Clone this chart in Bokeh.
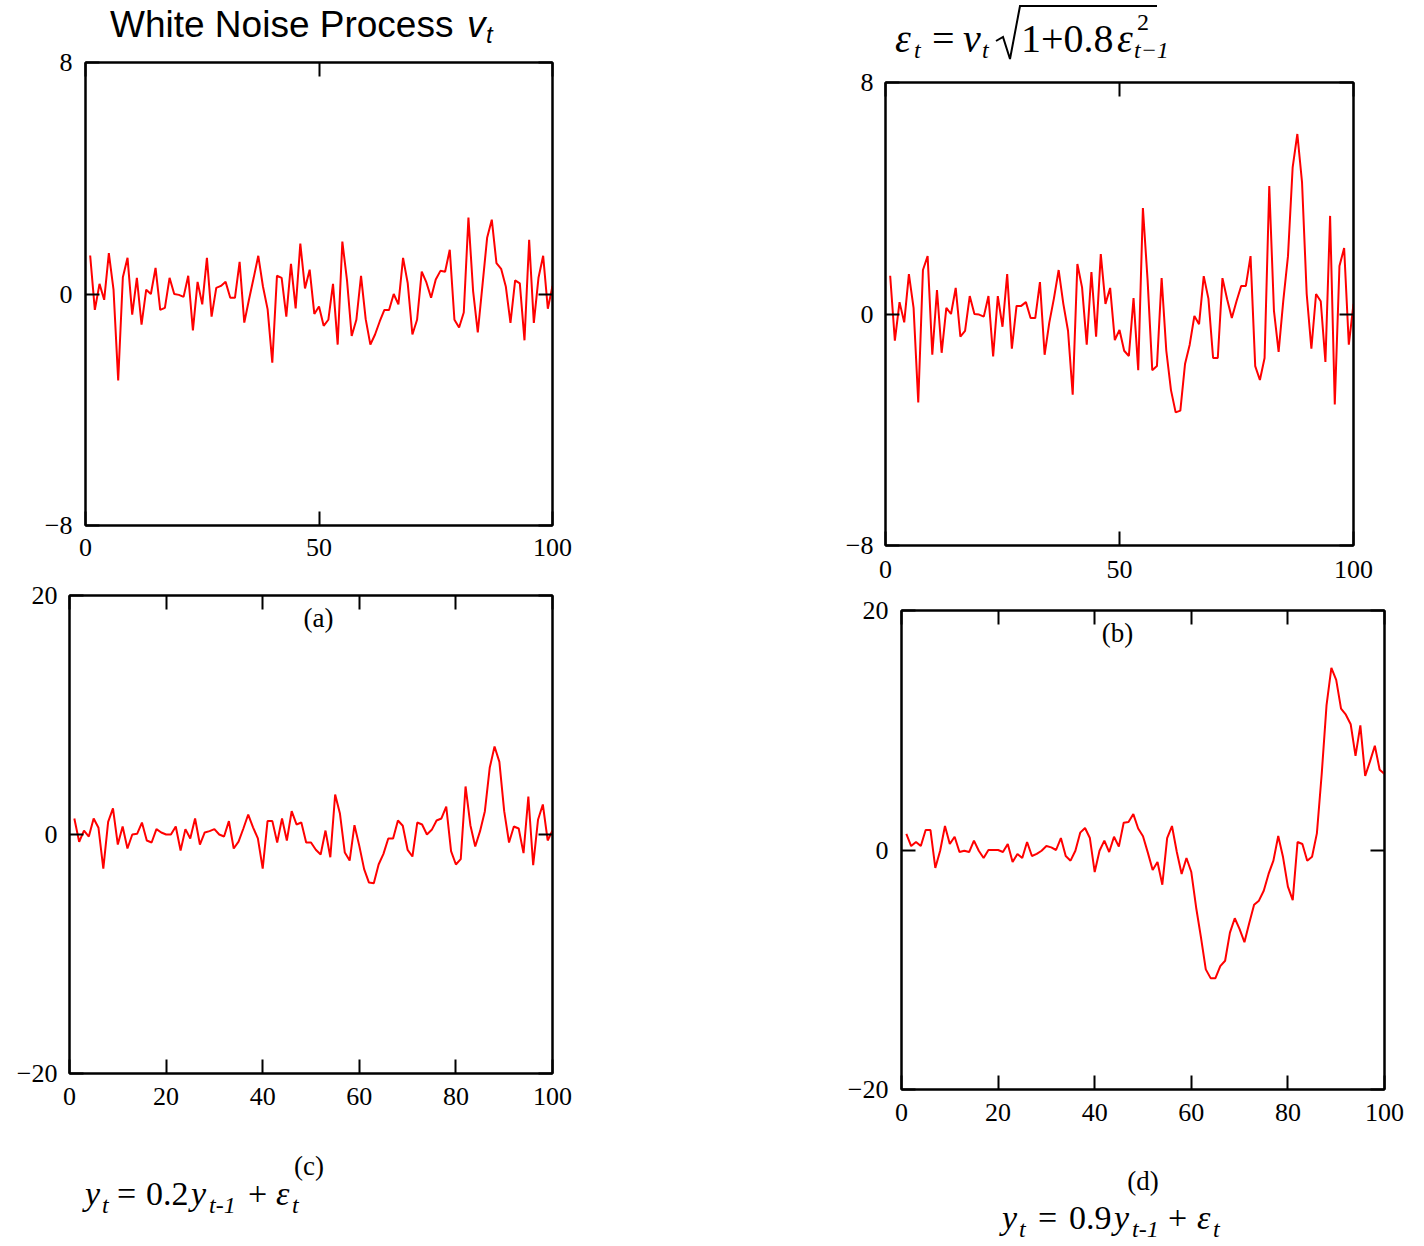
from bokeh.plotting import figure
from bokeh.layouts import row, column
from bokeh.models import Label, FixedTicker, LinearAxis, Range1d, Div
from bokeh.embed import file_html
from bokeh.resources import INLINE

# ---------------- data ----------------
t = list(range(1, 101))

white_noise = [1.33, -0.55, 0.35, -0.2, 1.41, 0.15, -2.99, 0.58, 1.25, -0.71,
               0.56, -1.06, 0.15, 0.0, 0.9, -0.55, -0.48, 0.56, 0.0, -0.03,
               -0.1, 0.63, -1.26, 0.42, -0.36, 1.25, -0.78, 0.21, 0.28, 0.42,
               -0.13, -0.13, 1.11, -0.99, -0.2, 0.55, 1.32, 0.26, -0.53, -2.37,
               0.63, 0.56, -0.78, 1.04, -0.5, 1.74, 0.19, 0.84, -0.69, -0.43,
               -1.1, -0.89, 0.35, -1.75, 1.81, 0.47, -1.45, -0.89, 0.63, -0.87,
               -1.75, -1.4, -0.95, -0.55, -0.55, 0.0, -0.36, 1.25, 0.37, -1.4,
               -0.89, 0.77, 0.4, -0.13, 0.5, 0.8, 0.77, 1.53, -0.89, -1.16,
               -0.64, 2.64, 0.1, -1.33, 0.3, 1.94, 2.57, 1.07, 0.87, 0.26,
               -1.0, 0.47, 0.37, -1.6, 1.87, -1.0, 0.56, 1.32, -0.51, 0.28]

arch_eps = [1.32, -0.92, 0.41, -0.29, 1.38, 0.21, -3.06, 1.52, 2.0, -1.41,
            0.83, -1.34, 0.21, 0.0, 0.9, -0.78, -0.58, 0.62, 0.0, -0.02,
            -0.09, 0.62, -1.47, 0.62, -0.44, 1.38, -1.2, 0.28, 0.28, 0.41,
            -0.14, -0.14, 1.1, -1.41, -0.3, 0.55, 1.52, 0.35, -0.58, -2.79,
            1.73, 0.92, -1.06, 1.45, -0.78, 2.07, 0.35, 0.9, -0.9, -0.55,
            -1.27, -1.45, 0.55, -1.94, 3.66, 1.18, -1.94, -1.8, 1.24, -1.27,
            -2.63, -3.4, -3.34, -1.73, -1.06, -0.07, -0.35, 1.31, 0.53, -1.52,
            -1.52, 1.24, 0.51, -0.14, 0.44, 0.97, 0.97, 2.0, -1.8, -2.28,
            -1.52, 4.42, 0.12, -1.31, 0.46, 2.0, 5.07, 6.22, 4.56, 0.69,
            -1.2, 0.69, 0.44, -1.66, 3.39, -3.13, 1.66, 2.28, -1.06, 0.35]

ar02 = [1.34, -0.61, 0.33, -0.17, 1.34, 0.56, -2.85, 1.06, 2.18, -0.84,
        0.67, -1.17, 0.0, 0.06, 1.0, -0.5, -0.67, 0.45, 0.17, 0.0,
        0.0, 0.67, -1.34, 0.45, -0.33, 1.34, -0.84, 0.17, 0.28, 0.45,
        0.0, -0.17, 1.12, -1.17, -0.6, 0.5, 1.67, 0.6, -0.33, -2.85,
        1.12, 1.12, -0.67, 1.34, -0.5, 1.95, 0.84, 1.0, -0.67, -0.67,
        -1.28, -1.67, 0.33, -1.9, 3.35, 1.73, -1.51, -2.18, 0.78, -0.95,
        -2.9, -4.02, -4.07, -2.51, -1.62, -0.33, -0.33, 1.17, 0.73, -1.28,
        -1.84, 1.0, 0.84, 0.0, 0.39, 1.17, 1.34, 2.34, -1.39, -2.51,
        -2.06, 4.02, 0.78, -1.0, 0.28, 1.95, 5.58, 7.36, 6.08, 1.95,
        -0.67, 0.67, 0.5, -1.56, 3.18, -2.57, 1.23, 2.51, -0.5, 0.33]

ar09 = [1.34, 0.33, 0.67, 0.33, 1.67, 1.67, -1.5, -0.06, 2.0, 0.5,
        1.11, -0.17, -0.06, -0.17, 0.78, -0.06, -0.67, 0.0, 0.0, 0.0,
        -0.17, 0.5, -1.0, -0.33, -0.67, 0.67, -0.5, -0.33, -0.06, 0.33,
        0.22, 0.0, 1.0, -0.5, -0.89, -0.06, 1.45, 1.84, 1.0, -1.84,
        -0.06, 0.78, -0.17, 1.11, 0.28, 2.28, 2.34, 3.0, 1.8, 1.15,
        -0.22, -1.67, -1.0, -2.9, 1.0, 2.0, -0.17, -2.0, -0.67, -1.84,
        -4.8, -7.3, -9.97, -10.7, -10.7, -9.7, -9.25, -6.9, -5.7, -6.6,
        -7.7, -6.1, -4.57, -4.23, -3.4, -2.0, -0.89, 1.17, -0.61, -3.06,
        -4.18, 0.67, 0.5, -0.89, -0.56, 1.39, 6.35, 12.1, 15.2, 14.2,
        11.8, 11.3, 10.5, 7.86, 10.4, 6.18, 7.4, 8.7, 6.7, 6.35]

x_ticks_top = [0, 50, 100]
y_ticks_top = [-8, 0, 8]
x_ticks_bottom = [0, 20, 40, 60, 80, 100]
y_ticks_bottom = [-20, 0, 20]

SERIF = "Liberation Serif"
SANS = "Liberation Sans"
TICK_SIZE = "26px"

LEFT_W = 720
RIGHT_W = 704

# frame geometry in page pixels and data limits
GA = dict(L=85, R=552, T=62, B=525, x0=0, x1=100, y0=-8, y1=8)
GB = dict(L=885, R=1353, T=82, B=545, x0=0, x1=100, y0=-8, y1=8)
GC = dict(L=69, R=552, T=595, B=1073, x0=0, x1=100, y0=-20, y1=20)
GD = dict(L=901, R=1384, T=610, B=1089, x0=0, x1=100, y0=-20, y1=20)

# boxes in page pixels (x, y, w, h)
DIV_A = (0, 0, LEFT_W, 48)
CA = (0, 48, LEFT_W, 532)
CC = (0, 580, LEFT_W, 545)
DIV_C = (0, 1125, LEFT_W, 121)
DIV_B = (720, 0, RIGHT_W, 66)
CB = (720, 66, RIGHT_W, 526)
CD = (720, 592, RIGHT_W, 548)
DIV_D = (720, 1140, RIGHT_W, 106)


def to_data(g, px, py):
    x = g["x0"] + (px - g["L"]) / (g["R"] - g["L"]) * (g["x1"] - g["x0"])
    y = g["y1"] - (py - g["T"]) / (g["B"] - g["T"]) * (g["y1"] - g["y0"])
    return x, y


def fmt(k):
    return ("\u2212" + str(abs(k))) if k < 0 else str(k)


def make_panel(g, c, xt, yt, standoff_x, standoff_y):
    cx, cy, W, H = c
    p = figure(width=W, height=H, output_backend="svg", toolbar_location=None,
               x_range=Range1d(g["x0"], g["x1"]), y_range=Range1d(g["y0"], g["y1"]),
               x_axis_location=None, y_axis_location=None,
               min_border_left=g["L"] - cx,
               min_border_right=cx + W - g["R"],
               min_border_top=g["T"] - cy,
               min_border_bottom=cy + H - g["B"],
               outline_line_color="black", outline_line_width=2,
               background_fill_color="white", border_fill_color="white")
    p.grid.grid_line_color = None
    for loc, ticks, show in (("below", xt, True), ("above", xt, False),
                             ("left", yt, True), ("right", yt, False)):
        ax = LinearAxis(ticker=FixedTicker(ticks=ticks))
        ax.major_tick_in = 14
        ax.major_tick_out = 0
        ax.minor_tick_in = 0
        ax.minor_tick_out = 0
        ax.axis_line_width = 2
        ax.axis_line_color = "black"
        ax.major_tick_line_width = 2
        ax.major_tick_line_color = "black"
        ax.major_label_text_font = SERIF
        ax.major_label_text_color = "black"
        if show:
            ax.major_label_text_font_size = TICK_SIZE
            ax.major_label_standoff = standoff_x if loc == "below" else standoff_y
            ax.major_label_overrides = {k: fmt(k) for k in ticks}
        else:
            ax.major_label_text_font_size = "0px"
            ax.major_label_standoff = 0
            ax.major_label_overrides = {k: "" for k in ticks}
        p.add_layout(ax, loc)
    return p


def inner_label(p, g, px, py, text, size):
    x, y = to_data(g, px, py)
    p.add_layout(Label(x=x, y=y, text=text, text_font=SERIF, text_font_size=f"{size}px",
                       text_align="center", text_baseline="middle", text_color="black"))


def svg_text(ox, oy, px, py, text, size, font=SERIF, italic=False, anchor="start"):
    style = (f"font-family:'{font}';font-size:{size}px;"
             f"font-style:{'italic' if italic else 'normal'};fill:black")
    return (f'<text x="{px - ox}" y="{py - oy}" text-anchor="{anchor}" '
            f'style="{style}">{text}</text>')


def text_div(box, items, extra=""):
    ox, oy, w, h = box
    body = "".join(svg_text(ox, oy, *it[:5], **(it[5] if len(it) > 5 else {})) for it in items)
    html = (f'<svg xmlns="http://www.w3.org/2000/svg" width="{w}" height="{h}" '
            f'style="display:block">{body}{extra}</svg>')
    return Div(text=html, width=w, height=h, styles={"margin": "0", "padding": "0"})


pa = make_panel(GA, CA, x_ticks_top, y_ticks_top, 13, 13)
pb = make_panel(GB, CB, x_ticks_top, y_ticks_top, 15, 12)
pc = make_panel(GC, CC, x_ticks_bottom, y_ticks_bottom, 14, 12)
pd = make_panel(GD, CD, x_ticks_bottom, y_ticks_bottom, 14, 13)

for p, series in ((pa, white_noise), (pb, arch_eps), (pc, ar02), (pd, ar09)):
    p.line(t, series, line_color="#ff0000", line_width=2)

inner_label(pc, GC, 318, 617, "(a)", 27)
inner_label(pd, GD, 1117, 632, "(b)", 27)

IT = {"italic": True}

# ---- title (a) ----
div_a = text_div(DIV_A, [
    (110, 37, "White Noise Process", 37, SANS),
    (467, 37, "v", 37, SANS, IT),
    (486, 43, "t", 24, SANS, IT),
])

# ---- title (b) ----
rad_pts = [(996, 41), (1003, 37), (1010, 59), (1020, 6), (1157, 6)]
rad = ('<polyline fill="none" stroke="black" stroke-width="2" points="'
       + " ".join(f"{x - 720},{y}" for x, y in rad_pts) + '"/>')
div_b = text_div(DIV_B, [
    (895, 52, "\u03b5", 40, SERIF, IT),
    (914, 58, "t", 24, SERIF, IT),
    (932, 52, "=", 40, SERIF),
    (963, 52, "v", 40, SERIF, IT),
    (982, 58, "t", 24, SERIF, IT),
    (1021, 52, "1+0.8", 40, SERIF),
    (1117, 52, "\u03b5", 40, SERIF, IT),
    (1137, 30, "2", 24, SERIF),
    (1134, 58, "t\u22121", 24, SERIF, IT),
], extra=rad)

# ---- caption (c) ----
div_c = text_div(DIV_C, [
    (309, 1175, "(c)", 27, SERIF, {"anchor": "middle"}),
    (85, 1205, "y", 34, SERIF, IT),
    (102, 1213, "t", 24, SERIF, IT),
    (117, 1205, "=", 34, SERIF),
    (146, 1205, "0.2", 34, SERIF),
    (191, 1205, "y", 34, SERIF, IT),
    (209, 1213, "t-1", 24, SERIF, IT),
    (248, 1205, "+", 34, SERIF),
    (276, 1205, "\u03b5", 34, SERIF, IT),
    (292, 1213, "t", 24, SERIF, IT),
])

# ---- caption (d) ----
div_d = text_div(DIV_D, [
    (1143, 1190, "(d)", 27, SERIF, {"anchor": "middle"}),
    (1002, 1229, "y", 34, SERIF, IT),
    (1019, 1237, "t", 24, SERIF, IT),
    (1038, 1229, "=", 34, SERIF),
    (1069, 1229, "0.9", 34, SERIF),
    (1114, 1229, "y", 34, SERIF, IT),
    (1132, 1237, "t-1", 24, SERIF, IT),
    (1168, 1229, "+", 34, SERIF),
    (1197, 1229, "\u03b5", 34, SERIF, IT),
    (1213, 1237, "t", 24, SERIF, IT),
])

left = column(div_a, column(pa), column(pc), div_c)
right = column(div_b, column(pb), column(pd), div_d)
layout = row(left, right)
open("out.html", "w").write(file_html(layout, INLINE))
